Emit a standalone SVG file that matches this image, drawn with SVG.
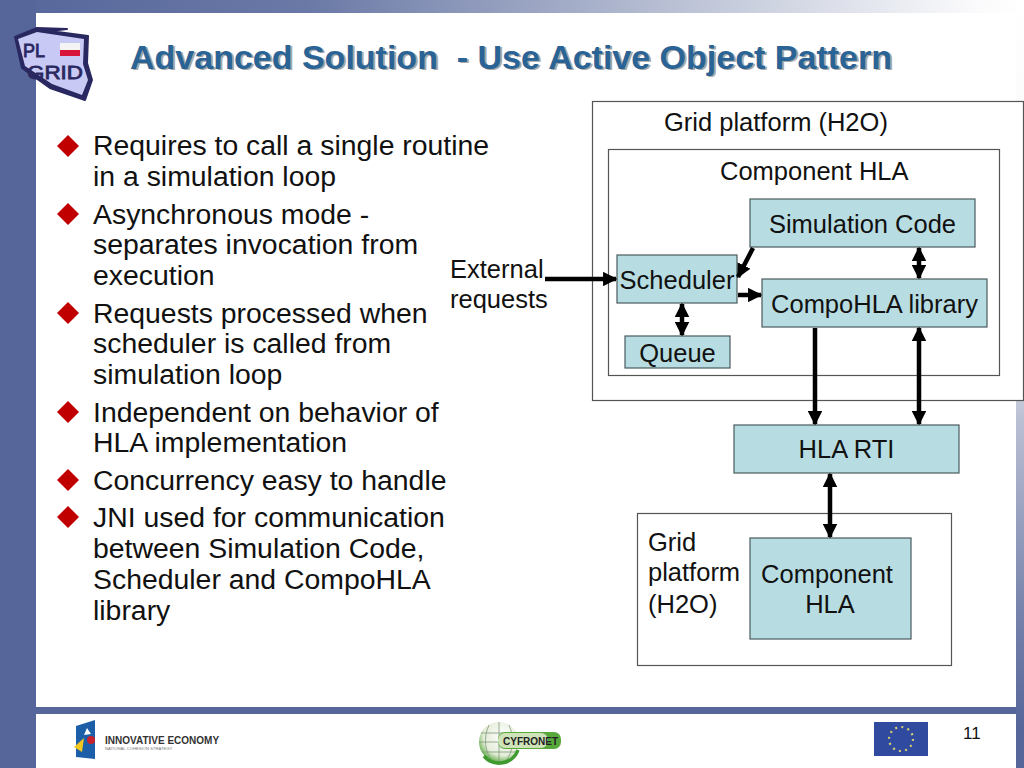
<svg xmlns="http://www.w3.org/2000/svg" width="1024" height="768" viewBox="0 0 1024 768">
<style>
text{font-family:"Liberation Sans",Arial,sans-serif;fill:#111;white-space:pre}
.b{font-size:28.4px}
.n{font-size:25.500px}
.box{fill:#b7dde2;stroke:#4a5a5e;stroke-width:1.2}
.frame{fill:#fff;stroke:#555;stroke-width:1.2}
.c{stroke:#000;stroke-width:4.500;fill:none}
.t{font-size:34px;font-weight:bold}
.lg{fill:none;stroke:#7f9a78;stroke-width:.8}
</style>
<defs>
<linearGradient id="top" x1="0" x2="1" y1="0" y2="0"><stop offset="0" stop-color="#56669a"/><stop offset="0.3" stop-color="#6a79a6"/><stop offset="0.7" stop-color="#c3c9da"/><stop offset="0.95" stop-color="#fafafc"/><stop offset="1" stop-color="#fff"/></linearGradient>
<linearGradient id="side" x1="0" x2="0" y1="0" y2="1"><stop offset="0" stop-color="#fff"/><stop offset="0.4" stop-color="#f4f5f8"/><stop offset="0.55" stop-color="#b9bfd3"/><stop offset="0.8" stop-color="#7682ab"/><stop offset="0.95" stop-color="#56669a"/></linearGradient>
<radialGradient id="globe" cx="0.6" cy="0.35" r="0.7"><stop offset="0" stop-color="#fff"/><stop offset="0.7" stop-color="#e4ecd8"/><stop offset="1" stop-color="#58a83c"/></radialGradient>
<marker id="a" viewBox="0 0 10 10" refX="9" refY="5" markerWidth="3.2" markerHeight="3.2" orient="auto-start-reverse"><path d="M0 0L10 5L0 10z" fill="#000"/></marker>
<path id="d" d="M0 -11L11 0L0 11L-11 0z" fill="#c00000"/>
</defs>
<g id="background">
<rect width="1024" height="768" fill="#fff"/>
<rect width="1024" height="13" fill="url(#top)"/>
<rect x="1016" width="8" height="768" fill="url(#side)"/>
<rect width="36" height="768" fill="#56669a"/>
<rect x="36" y="707" width="980" height="7" fill="#56669a"/>
</g>
<g id="logo-plgrid">
<path d="M37 28L67 29L50 31L88 36L87 63L92 80L85 100L50 88L22 68L15 37z" fill="#2a2860" stroke="#2a2860" stroke-width="2" stroke-linejoin="round"/>
<path d="M18 39L37 32L84 39L83 64L88 80L82 95L52 84L25 66z" fill="#c9c9f5"/>
<rect x="60" y="43" width="20" height="7" fill="#f4f4f4"/><rect x="60" y="50" width="20" height="6" fill="#d8143a"/>
<text x="23" y="57" style="font-size:18px;fill:#2a2860;stroke:#2a2860;stroke-width:.8" textLength="22" lengthAdjust="spacingAndGlyphs">PL</text>
<text x="27" y="79" style="font-size:19px;fill:#2a2860;stroke:#2a2860;stroke-width:.8" textLength="56" lengthAdjust="spacingAndGlyphs">GRID</text>
</g>
<g id="title">
<text class="t" x="132" y="70" style="fill:#a8a8a8">Advanced Solution  - Use Active Object Pattern</text>
<text class="t" x="130" y="69" style="fill:#2a6496">Advanced Solution  - Use Active Object Pattern</text>
</g>
<g id="bullets">
<use href="#d" x="68" y="146"/><use href="#d" x="68" y="214"/><use href="#d" x="68" y="313"/><use href="#d" x="68" y="412"/><use href="#d" x="68" y="480"/><use href="#d" x="68" y="517"/>
<text class="b" x="93" y="155">Requires to call a single routine</text>
<text class="b" x="93" y="186">in a simulation loop</text>
<text class="b" x="93" y="224">Asynchronous mode -</text>
<text class="b" x="93" y="254">separates invocation from</text>
<text class="b" x="93" y="285">execution</text>
<text class="b" x="93" y="323">Requests processed when</text>
<text class="b" x="93" y="353">scheduler is called from</text>
<text class="b" x="93" y="384">simulation loop</text>
<text class="b" x="93" y="422">Independent on behavior of</text>
<text class="b" x="93" y="452">HLA implementation</text>
<text class="b" x="93" y="490">Concurrency easy to handle</text>
<text class="b" x="93" y="527">JNI used for communication</text>
<text class="b" x="93" y="558">between Simulation Code,</text>
<text class="b" x="93" y="589">Scheduler and CompoHLA</text>
<text class="b" x="93" y="620">library</text>
</g>
<g id="grid-platform-1">
<rect class="frame" x="592.500" y="101.500" width="431" height="299"/>
<text class="n" x="664" y="131">Grid platform (H2O)</text>
</g>
<g id="component-hla-1">
<rect class="frame" x="608.500" y="149.500" width="391" height="226"/>
<text class="n" x="720" y="180">Component HLA</text>
</g>
<g id="simulation-code"><rect class="box" x="750" y="199" width="225" height="48"/><text class="n" x="862.500" y="233" text-anchor="middle">Simulation Code</text></g>
<g id="scheduler"><rect class="box" x="617" y="255" width="120" height="48"/><text class="n" x="677" y="289" text-anchor="middle">Scheduler</text></g>
<g id="compohla-library"><rect class="box" x="762" y="279" width="225" height="48"/><text class="n" x="874.500" y="313" text-anchor="middle">CompoHLA library</text></g>
<g id="queue"><rect class="box" x="625" y="336" width="105" height="32"/><text class="n" x="677.500" y="362" text-anchor="middle">Queue</text></g>
<g id="external-requests"><text class="n" x="450" y="278">External</text><text class="n" x="450" y="308">requests</text></g>
<g id="hla-rti"><rect class="box" x="734" y="425" width="225" height="48"/><text class="n" x="846.500" y="458" text-anchor="middle">HLA RTI</text></g>
<g id="grid-platform-2">
<rect class="frame" x="637.500" y="513.500" width="314" height="152"/>
<text class="n" x="648" y="551">Grid</text><text class="n" x="648" y="581">platform</text><text class="n" x="648" y="613">(H2O)</text>
</g>
<g id="component-hla-2"><rect class="box" x="750" y="538" width="161" height="101"/><text class="n" x="827" y="583" text-anchor="middle">Component</text><text class="n" x="830" y="613" text-anchor="middle">HLA</text></g>
<g id="connectors">
<path class="c" d="M545 279H616" marker-end="url(#a)"/>
<path class="c" d="M753 248L738 277" marker-end="url(#a)"/>
<path class="c" d="M738 295H761" marker-end="url(#a)"/>
<path class="c" d="M682 304V335" marker-start="url(#a)" marker-end="url(#a)"/>
<path class="c" d="M919 248V278" marker-start="url(#a)" marker-end="url(#a)"/>
<path class="c" d="M815 328V424" marker-end="url(#a)"/>
<path class="c" d="M919 328V424" marker-start="url(#a)" marker-end="url(#a)"/>
<path class="c" d="M830 474V537" marker-start="url(#a)" marker-end="url(#a)"/>
</g>
<g id="logo-innovative-economy">
<path d="M76 726L95 720V759L76 757z" fill="#1c5fa8"/>
<path d="M74 747L84 738L82 752z" fill="#f2c81e"/>
<circle cx="91" cy="740" r="4" fill="#c8202c"/>
<path d="M87 728L91 734L84 735z" fill="#fff"/>
<text x="105" y="744" style="font-size:10px;font-weight:bold;fill:#333">INNOVATIVE ECONOMY</text>
<text x="105" y="750" style="font-size:4.200px;fill:#777">NATIONAL COHESION STRATEGY</text>
</g>
<g id="logo-cyfronet">
<circle cx="499" cy="742" r="20" fill="url(#globe)"/>
<path class="lg" d="M481 733H517M479 742H519M482 752H516M499 722V762M489 725C483 738 485 752 492 761M509 725C515 738 513 752 506 761"/>
<path d="M484 756A20 20 0 0 0 518 750" fill="none" stroke="#3f9a2f" stroke-width="3.500"/>
<rect x="498" y="732" width="63" height="17" rx="7" fill="#58a83c"/>
<rect x="498" y="733" width="50" height="15" rx="7" fill="#cfe3b8"/>
<text x="503" y="745" style="font-size:10px;font-weight:bold;fill:#222">CYFRONET</text>
</g>
<g id="eu-flag">
<rect x="874" y="722" width="54" height="34" fill="#2f4a9e"/>
<circle cx="901" cy="739" r="12" fill="none" stroke="#d8d070" stroke-width="2.200" stroke-dasharray="2 4.280"/>
</g>
<g id="page-number"><text x="963" y="739" style="font-size:17px">11</text></g>
</svg>
